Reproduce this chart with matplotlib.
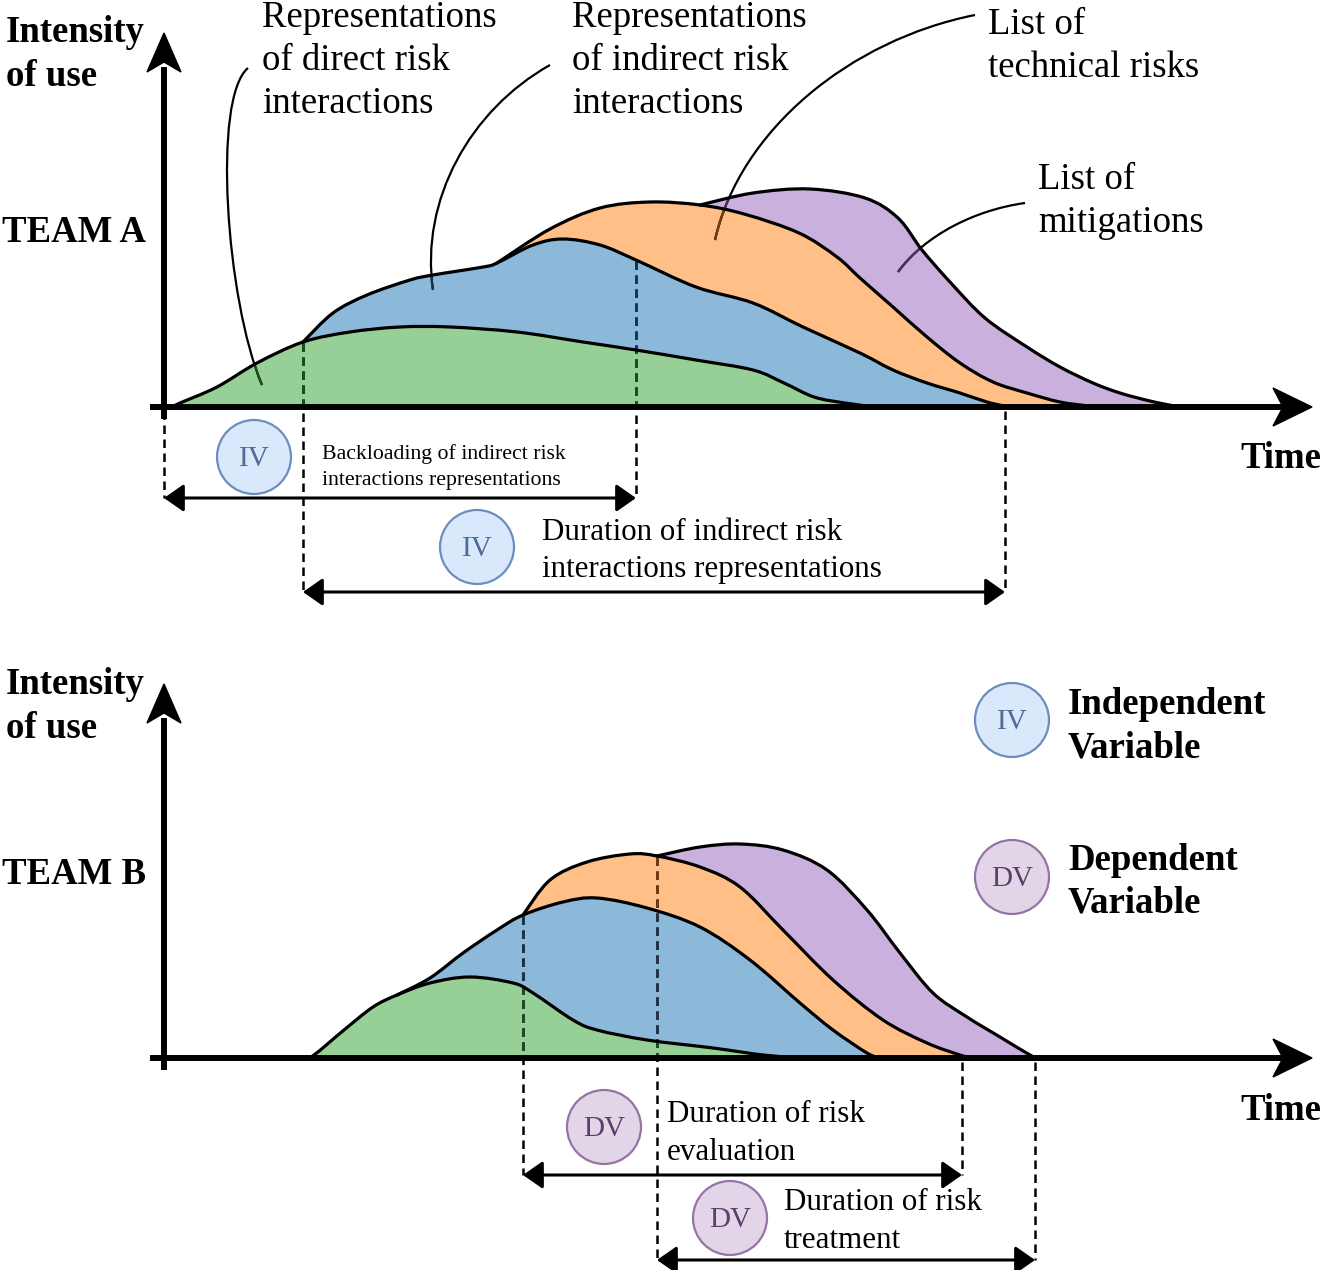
import numpy as np
import matplotlib
matplotlib.use("Agg")
import matplotlib.pyplot as plt
from matplotlib.path import Path
from matplotlib.patches import PathPatch, Circle, Polygon, FancyArrowPatch

plt.rcParams['font.family'] = ['Liberation Serif', 'DejaVu Serif']

# outlines: time / intensity in pixels from each panel origin
a_green_t = [8, 16, 53, 93, 139, 186, 236, 286, 353, 419, 472, 532, 589, 620, 650, 681, 711]
a_green_h = [0, 4, 20, 44, 65, 75, 80, 80, 75, 65, 57, 47, 37, 24, 10, 4, 0]
a_blue_t = [139, 169, 203, 246, 269, 319, 333, 369, 399, 436, 472, 532, 589, 639, 696, 729, 763, 796, 823, 841, 856]
a_blue_h = [65, 94, 112, 127, 132, 140, 144, 162, 168, 162, 147, 120, 104, 80, 54, 37, 24, 14, 5, 1, 0]
a_orange_t = [333, 386, 436, 486, 536, 580, 635, 673, 696, 729, 763, 796, 829, 863, 896, 926, 946]
a_orange_h = [144, 178, 199, 205, 202, 193, 174, 150, 129, 100, 70, 44, 25, 14, 5, 1, 0]
a_purple_t = [536, 589, 646, 701, 734, 758, 786, 821, 863, 896, 929, 956, 986, 1011, 1026]
a_purple_h = [202, 214, 218, 209, 189, 157, 125, 89, 60, 40, 24, 14, 6, 1, 0]

b_green_t = [141, 150, 180, 209, 233, 266, 306, 349, 369, 409, 433, 483, 549, 599, 636]
b_green_h = [0, 3, 28, 51, 63, 75, 81, 75, 65, 38, 28, 18, 10, 3, 0]
b_blue_t = [233, 266, 299, 333, 359, 399, 433, 483, 536, 586, 636, 669, 703, 716]
b_blue_h = [63, 80, 105, 128, 143, 156, 160, 150, 131, 98, 55, 28, 5, 0]
b_orange_t = [359, 386, 423, 466, 493, 536, 576, 619, 669, 719, 763, 796, 808]
b_orange_h = [143, 178, 196, 204, 202, 191, 171, 128, 78, 38, 15, 3, 0]
b_purple_t = [493, 536, 576, 619, 663, 703, 736, 769, 803, 836, 866, 873]
b_purple_h = [202, 211, 214, 208, 188, 148, 105, 65, 41, 21, 3, 0]

fills = {'green': '#97d096', 'blue': '#8cb9da', 'orange': '#ffbf87', 'purple': '#c9b0dd'}
darks = {'green': '#1b4f1b', 'blue': '#0f3454', 'orange': '#7a3c0a', 'purple': '#4a3062'}

fig = plt.figure(figsize=(13.2, 12.7), dpi=100)
ax = fig.add_axes([0, 0, 1, 1])
ax.set_xlim(0, 1320)
ax.set_ylim(1270, 0)
ax.axis('off')


def smooth(pts):
    # catmull-rom through the points, as cubic bezier segments
    pts = np.asarray(pts, float)
    ext = np.vstack([pts[0], pts, pts[-1]])
    verts = [pts[0]]
    codes = [Path.MOVETO]
    for i in range(len(pts) - 1):
        p0, p1, p2, p3 = ext[i], ext[i + 1], ext[i + 2], ext[i + 3]
        verts += [p1 + (p2 - p0) / 6, p2 - (p3 - p1) / 6, p2]
        codes += [Path.CURVE4] * 3
    return verts, codes


def draw_panel(x0, base, layers, dashes, leaders):
    patches = []
    for name, t, h in layers:
        pts = [(x0 + a, base - b) for a, b in zip(t, h)]
        v, c = smooth(pts)
        fv = [(pts[0][0], base)] + v + [(pts[-1][0], base), (pts[0][0], base)]
        fc = [Path.MOVETO, Path.LINETO] + c[1:] + [Path.LINETO, Path.CLOSEPOLY]
        p = PathPatch(Path(fv, fc), facecolor=fills[name], edgecolor='none', zorder=1)
        ax.add_patch(p)
        patches.append((name, p))
        ax.add_patch(PathPatch(Path(v, c), fill=False, edgecolor='black', lw=2.3, zorder=4,
                               capstyle='round', joinstyle='round'))

    def lines(color, clip=None):
        z = 2 if clip is None else 3
        for t, layer, yend in dashes:
            ystart = base + 4 if layer is None else base - np.interp(t, layer[0], layer[1]) + 1
            ln, = ax.plot([x0 + t, x0 + t], [ystart, yend], color=color, lw=1.8,
                          ls=(0, (3.4, 2.2)), zorder=z)
            if clip is not None:
                ln.set_clip_path(clip)
        for pts in leaders:
            lp = PathPatch(Path(pts, [Path.MOVETO] + [Path.CURVE4] * 3), fill=False,
                           edgecolor=color, lw=1.6, zorder=z)
            ax.add_patch(lp)
            if clip is not None:
                lp.set_clip_path(clip)

    lines('black')
    for name, p in patches:
        lines(darks[name], p)

    # axes with arrow heads
    ax.plot([150, 1285], [base, base], color='black', lw=4.3, zorder=5, solid_capstyle='butt')
    ax.plot([x0, x0], [base + 12, base - 340], color='black', lw=4.3, zorder=5, solid_capstyle='butt')
    ax.add_patch(Polygon([(1312, base), (1273, base - 19), (1283, base), (1273, base + 19)],
                         closed=True, color='black', zorder=5))
    tip = base - 374
    ax.add_patch(Polygon([(x0, tip), (x0 - 17, tip + 39), (x0, tip + 29), (x0 + 17, tip + 39)],
                         closed=True, color='black', zorder=5))


def put(x, ys, lines_, **kw):
    for y, s in zip(ys, lines_):
        ax.text(x, y + 3, s, va='center', ha='left', **kw)


def badge(label, x, y):
    if label == 'IV':
        fc, ec, tc = '#dae8fc', '#6c8ebf', '#4d6b96'
    else:
        fc, ec, tc = '#e1d5e7', '#9673a6', '#5a3f6a'
    ax.add_patch(Circle((x, y), 37, facecolor=fc, edgecolor=ec, lw=1.6, zorder=6))
    ax.text(x, y + 2, label, ha='center', va='center', fontsize=21, color=tc, zorder=7)


def darrow(x1, x2, y):
    ax.add_patch(FancyArrowPatch((x1, y), (x2, y), arrowstyle='<|-|>,head_length=0.6,head_width=0.42',
                                 mutation_scale=20, lw=2.2, color='black', shrinkA=0, shrinkB=0, zorder=6))


# TEAM A
a_layers = [('purple', a_purple_t, a_purple_h), ('orange', a_orange_t, a_orange_h),
            ('blue', a_blue_t, a_blue_h), ('green', a_green_t, a_green_h)]
a_dashes = [(0, None, 498), (139, (a_blue_t, a_blue_h), 592),
            (472, (a_blue_t, a_blue_h), 498), (841, None, 592)]
# leader lines: start, two bezier handles, end
a_leaders = [[(248, 68), (212, 98), (226, 300), (262, 385)],
             [(550, 65), (470, 110), (420, 200), (433, 290)],
             [(975, 15), (850, 40), (740, 130), (715, 240)],
             [(1025, 203), (975, 210), (925, 235), (898, 272)]]
draw_panel(164, 407, a_layers, a_dashes, a_leaders)

# TEAM B
b_layers = [('purple', b_purple_t, b_purple_h), ('orange', b_orange_t, b_orange_h),
            ('blue', b_blue_t, b_blue_h), ('green', b_green_t, b_green_h)]
b_dashes = [(359, (b_blue_t, b_blue_h), 1175), (493, (b_orange_t, b_orange_h), 1260),
            (798, None, 1175), (871, None, 1260)]
draw_panel(164, 1058, b_layers, b_dashes, [])

big = dict(fontsize=26.5)
bold = dict(fontsize=26.5, fontweight='bold')
put(6, [30, 73], ['Intensity', 'of use'], **bold)
put(2, [230], ['TEAM A'], **bold)
put(1240, [455], ['Time'], **bold)
put(262, [15, 58, 101], ['Representations', 'of direct risk', 'interactions'], **big)
put(572, [15, 58, 101], ['Representations', 'of indirect risk', 'interactions'], **big)
put(988, [22, 65], ['List of', 'technical risks'], **big)
put(1038, [177, 220], ['List of', 'mitigations'], **big)
put(322, [451, 477], ['Backloading of indirect risk', 'interactions representations'], fontsize=15.7)
put(542, [530, 567], ['Duration of indirect risk', 'interactions representations'], fontsize=22.3)

put(6, [682, 725], ['Intensity', 'of use'], **bold)
put(2, [872], ['TEAM B'], **bold)
put(1240, [1107], ['Time'], **bold)
put(1068, [702, 745], ['Independent', 'Variable'], **bold)
put(1068, [857, 900], ['Dependent', 'Variable'], **bold)
put(667, [1112, 1149], ['Duration of risk', 'evaluation'], fontsize=22.3)
put(784, [1200, 1238], ['Duration of risk', 'treatment'], fontsize=22.3)

darrow(164, 636, 498)
darrow(303, 1005, 592)
darrow(523, 962, 1175)
darrow(657, 1035, 1260)

badge('IV', 254, 457)
badge('IV', 477, 547)
badge('IV', 1012, 720)
badge('DV', 1012, 877)
badge('DV', 604, 1127)
badge('DV', 730, 1218)

fig.savefig('out.png', dpi=100)
